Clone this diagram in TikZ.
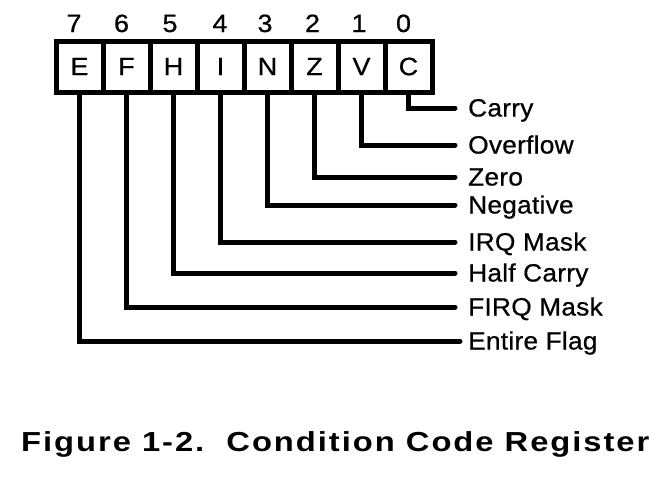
\documentclass[tikz,border=0pt]{standalone}
\usepackage{fontspec}
\setmainfont{Liberation Sans}
\newfontfamily\lblfont[LetterSpace=1,FakeBold=0.6]{Liberation Sans}
\newfontfamily\cellfont[FakeBold=0.6]{Liberation Sans}
\newfontfamily\ttlfont[LetterSpace=6]{Liberation Sans}
\newcommand{\wlbl}[1]{\scalebox{1.05}[1]{#1}}
\newcommand{\wttl}[1]{\scalebox{1.19}[1]{#1}}
\newcommand{\wcell}[1]{\scalebox{1.08}[1]{#1}}
\begin{document}
\begin{tikzpicture}[x=1pt,y=-1pt,
  cell/.style={draw, line width=5pt, minimum width=47pt, minimum height=51pt, inner sep=0pt,
    font=\cellfont\fontsize{25}{29}\selectfont},
  bitnum/.style={inner sep=0pt, text height=17pt, text depth=0pt, font=\cellfont\fontsize{25}{29}\selectfont},
  lbl/.style={anchor=west, inner sep=0pt, text height=17pt, text depth=0pt,
    font=\lblfont\fontsize{25}{29}\selectfont},
  conn/.style={line width=5pt, line cap=round, shorten >=13pt},
  ttl/.style={anchor=west, inner sep=0pt, text height=19pt, text depth=0pt,
    font=\ttlfont\bfseries\fontsize{27.5}{32}\selectfont}]
\useasboundingbox (0,0) rectangle (670,482);
% register cells
\node[cell] (c7) at (79.5,66.5) {\wcell{E}};
\node[cell] (c6) at (126.5,66.5) {\wcell{F}};
\node[cell] (c5) at (173.5,66.5) {\wcell{H}};
\node[cell] (c4) at (220.5,66.5) {\wcell{I}};
\node[cell] (c3) at (267.5,66.5) {\wcell{N}};
\node[cell] (c2) at (314.5,66.5) {\wcell{Z}};
\node[cell] (c1) at (361.5,66.5) {\wcell{V}};
\node[cell] (c0) at (408.5,66.5) {\wcell{C}};
% bit numbers
\node[bitnum] (b7) at (74,23.5) {\wcell{7}};
\node[bitnum] (b6) at (121.5,23.5) {\wcell{6}};
\node[bitnum] (b5) at (170,23.5) {\wcell{5}};
\node[bitnum] (b4) at (220,23.5) {\wcell{4}};
\node[bitnum] (b3) at (265,23.5) {\wcell{3}};
\node[bitnum] (b2) at (312.5,23.5) {\wcell{2}};
\node[bitnum] (b1) at (359,23.5) {\wcell{1}};
\node[bitnum] (b0) at (403.5,23.5) {\wcell{0}};
% labels
\node[lbl] (l0) at (468,108) {\wlbl{Carry}};
\node[lbl] (l1) at (468,145) {\wlbl{Overflow}};
\node[lbl] (l2) at (468,177) {\wlbl{Zero}};
\node[lbl] (l3) at (468,205) {\wlbl{Negative}};
\node[lbl] (l4) at (468,242) {\wlbl{IRQ Mask}};
\node[lbl] (l5) at (468,273) {\wlbl{Half Carry}};
\node[lbl] (l6) at (468,307) {\wlbl{FIRQ Mask}};
\node[lbl] (l7) at (468,341) {\wlbl{Entire Flag}};
% connectors
\draw[conn] (c0.south) |- (l0.west);
\draw[conn] (c1.south) |- (l1.west);
\draw[conn] (c2.south) |- (l2.west);
\draw[conn] (c3.south) |- (l3.west);
\draw[conn] (c4.south) |- (l4.west);
\draw[conn] (c5.south) |- (l5.west);
\draw[conn] (c6.south) |- (l6.west);
\draw[conn, shorten >=8pt] (c7.south) |- (l7.west);
% title
\node[ttl] (title) at (21,442) {\wttl{Figure 1-2.\ \ Condition Code Register}};
\end{tikzpicture}
\end{document}
